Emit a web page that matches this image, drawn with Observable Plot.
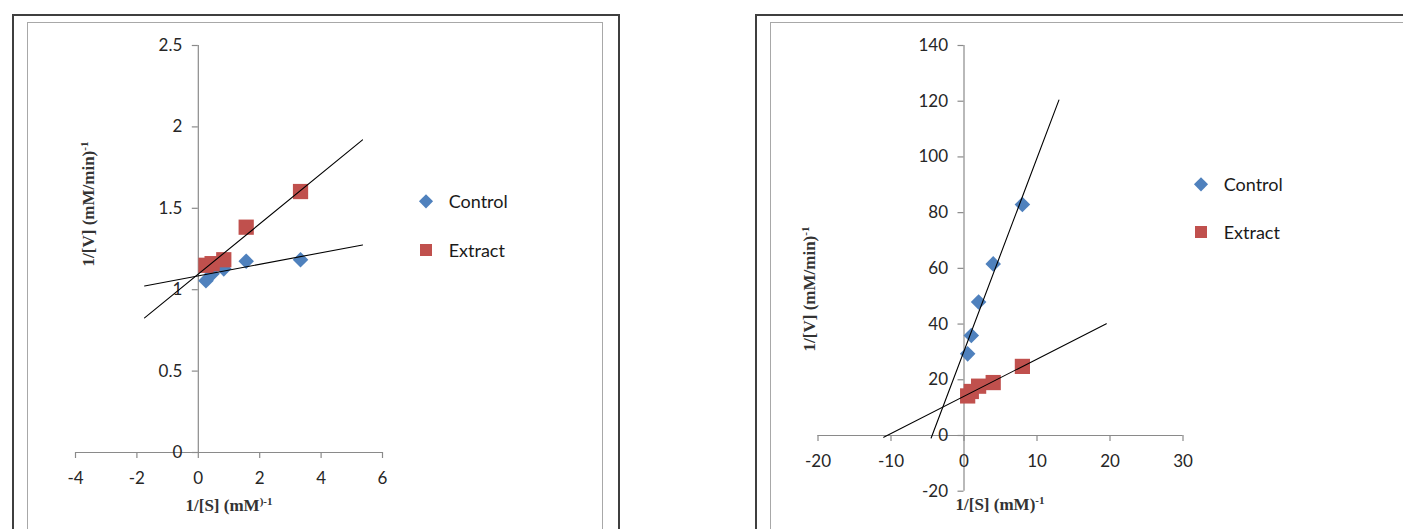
<!DOCTYPE html>
<html><head><meta charset="utf-8">
<script src="https://cdn.jsdelivr.net/npm/d3@7"></script>
<script src="https://cdn.jsdelivr.net/npm/@observablehq/plot@0.6"></script>
<style>
body{margin:0;background:#fff;}
#page{position:relative;width:1403px;height:529px;overflow:hidden;background:#fff;font-family:Lato,sans-serif;}
.box{position:absolute;border-bottom:none;pointer-events:none;}
.outer{border:2px solid #3f3f3f;border-bottom:none;}
.inner{border:1.5px solid #a8a8a8;border-bottom:none;}
.plot{position:absolute;top:0;}
.title{position:absolute;font-family:"Liberation Serif",serif;font-weight:bold;font-size:17px;color:#333;white-space:nowrap;transform:translate(-50%,-50%);}
.title.rot{transform:translate(-50%,-50%) rotate(-90deg);}
.sup{font-size:11px;position:relative;top:-6px;}
.leg{position:absolute;font-size:18px;color:#1a1a1a;white-space:nowrap;transform:translateY(-50%);}
.mk{position:absolute;transform:translate(-50%,-50%);}
</style></head>
<body><div id="page"></div>
<script>
// ---- data ----
const seriesNames = ["Control", "Extract"];
const colors = ["#4F81BD", "#C0504D"];

// Panel A (left)
const aX = [0.25, 0.45, 0.83, 1.56, 3.33];
const aControl = [1.055, 1.098, 1.128, 1.175, 1.184];
const aExtract = [1.150, 1.160, 1.184, 1.384, 1.603];
const aXTicks = [-4, -2, 0, 2, 4, 6];
const aYTicks = [0, 0.5, 1, 1.5, 2, 2.5];
const aSlope = [0.0355, 0.154];
const aIntercept = [1.085, 1.096];
const aTrendFrom = [-1.75, -1.75];
const aTrendTo = [5.35, 5.35];

// Panel B (right)
const bX = [0.5, 1, 2, 4, 8];
const bControl = [29.3, 35.9, 47.9, 61.6, 82.9];
const bExtract = [14.2, 15.8, 17.7, 19.0, 24.8];
const bXTicks = [-20, -10, 0, 10, 20, 30];
const bYTicks = [-20, 0, 20, 40, 60, 80, 100, 120, 140];
const bSlope = [6.93, 1.335];
const bIntercept = [30.3, 14.08];
const bTrendFrom = [-4.5, -11.0];
const bTrendTo = [13.0, 19.5];

const page = document.getElementById("page");

function panel(o) {
  const kx = (o.width - o.ml - o.mr) / (o.xTicks[o.xTicks.length - 1] - o.xTicks[0]);
  const ky = (o.height - o.mt - o.mb) / (o.yTicks[o.yTicks.length - 1] - o.yTicks[0]);
  const pts = (vals, s) => o.xs.map((x, i) => ({x, y: vals[i], s}));
  const ctrl = pts(o.control, seriesNames[0]);
  const extr = pts(o.extract, seriesNames[1]);
  const trend = seriesNames.flatMap((s, i) => [o.from[i], o.to[i]].map(x => ({x, y: o.intercept[i] + o.slope[i] * x, s})));
  const axisColor = "#8a8a8a";
  const xMin = o.xTicks[0], xMax = o.xTicks[o.xTicks.length - 1];
  const yMin = o.yTicks[0], yMax = o.yTicks[o.yTicks.length - 1];
  const svg = Plot.plot({
    width: o.width, height: o.height,
    marginLeft: o.ml, marginRight: o.mr, marginTop: o.mt, marginBottom: o.mb,
    x: {domain: [xMin, xMax], axis: null},
    y: {domain: [yMin, yMax], axis: null},
    style: {background: "transparent", fontFamily: "Lato, sans-serif", fontSize: "17px", color: "#262626", overflow: "visible"},
    marks: [
      Plot.ruleX([0], {y1: yMin, y2: yMax, stroke: axisColor, strokeWidth: 1.2}),
      Plot.ruleY([0], {x1: xMin, x2: xMax, stroke: axisColor, strokeWidth: 1.2}),
      Plot.ruleY(o.yTicks, {y: d => d, x1: 0, x2: -6 / kx, stroke: axisColor, strokeWidth: 1.2}),
      Plot.ruleX(o.xTicks, {x: d => d, y1: 0, y2: -6 / ky, stroke: axisColor, strokeWidth: 1.2}),
      Plot.text(o.yTicks, {x: 0, y: d => d, text: d => String(d), textAnchor: "end", dx: -16, fill: "#262626", fontSize: 17}),
      Plot.text(o.xTicks, {x: d => d, y: 0, text: d => String(d), dy: 26, fill: "#262626", fontSize: 17}),
      Plot.dot(ctrl, {x: "x", y: "y", symbol: "diamond2", r: 7, fill: colors[0], stroke: "none"}),
      Plot.dot(extr, {x: "x", y: "y", symbol: "square", r: 8.6, fill: colors[1], stroke: "none"}),
      Plot.line(trend, {x: "x", y: "y", z: "s", stroke: "#000", strokeWidth: 1.1})
    ]
  });
  svg.classList.add("plot");
  svg.style.left = o.left + "px";
  page.appendChild(svg);
}

panel({left: 0, width: 700, height: 529, ml: 75, mr: 318, mt: 45, mb: 77,
  xs: aX, control: aControl, extract: aExtract, xTicks: aXTicks, yTicks: aYTicks,
  slope: aSlope, intercept: aIntercept, from: aTrendFrom, to: aTrendTo});
panel({left: 740, width: 663, height: 529, ml: 77.5, mr: 220.5, mt: 45, mb: 38.3,
  xs: bX, control: bControl, extract: bExtract, xTicks: bXTicks, yTicks: bYTicks,
  slope: bSlope, intercept: bIntercept, from: bTrendFrom, to: bTrendTo});

function el(tag, cls, style, html) {
  const e = document.createElement(tag);
  e.className = cls;
  Object.assign(e.style, style);
  if (html !== undefined) e.innerHTML = html;
  page.appendChild(e);
  return e;
}
// frames
el("div", "box outer", {left: "12px", top: "14px", width: "604px", height: "600px"});
el("div", "box inner", {left: "27px", top: "22px", width: "574px", height: "600px"});
el("div", "box outer", {left: "755px", top: "14px", width: "700px", height: "600px"});
el("div", "box inner", {left: "770px", top: "22px", width: "700px", height: "600px"});

// axis titles
el("div", "title", {left: "229px", top: "506px"}, '1/[S] (mM<span class="sup">)-1</span>');
el("div", "title rot", {left: "89px", top: "204px"}, '1/[V] (mM/min)<span class="sup">-1</span>');
el("div", "title", {left: "1000px", top: "505px"}, '1/[S] (mM)<span class="sup">-1</span>');
el("div", "title rot", {left: "810px", top: "289px"}, '1/[V] (mM/min)<span class="sup">-1</span>');

// legends
function legend(x, ys) {
  seriesNames.forEach((s, i) => {
    const m = el("div", "mk", {left: x + "px", top: ys[i] + "px", background: colors[i]});
    if (i === 0) { m.style.width = "9.5px"; m.style.height = "9.5px"; m.style.transform = "translate(-50%,-50%) rotate(45deg)"; }
    else { m.style.width = "12px"; m.style.height = "12px"; }
    el("div", "leg", {left: (x + 23) + "px", top: ys[i] + "px"}, s);
  });
}
legend(425.7, [200.5, 249.5]);
legend(1200.7, [184.3, 232]);
</script>
</body></html>
